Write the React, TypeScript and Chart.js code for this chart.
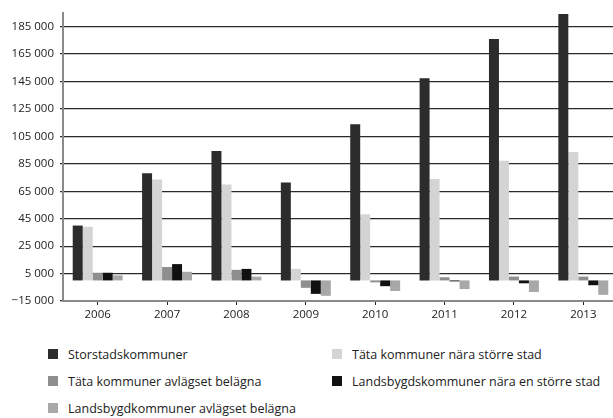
import React, { useEffect, useRef } from "react";
import { Chart, registerables } from "chart.js";

Chart.register(...registerables);

const years = ["2006", "2007", "2008", "2009", "2010", "2011", "2012", "2013"];

const storstad = [40000, 78200, 94300, 71300, 113900, 147400, 176000, 194200];
const tataNara = [39100, 73600, 69900, 8400, 48200, 74000, 87300, 93600];
const tataAvlagset = [5600, 9800, 7700, -5400, -1400, 2300, 2800, 2800];
const landsbygdNara = [5600, 11900, 8400, -9800, -4200, -700, -2100, -3500];
const landsbygdAvlagset = [3700, 6300, 2800, -11200, -7700, -6300, -8400, -10500];

const yTicks = [-15000, 5000, 25000, 45000, 65000, 85000, 105000, 125000, 145000, 165000, 185000];

const seriesNames = [
  "Storstadskommuner",
  "Täta kommuner nära större stad",
  "Täta kommuner avlägset belägna",
  "Landsbygdskommuner nära en större stad",
  "Landsbygdkommuner avlägset belägna",
];
const seriesColors = ["#2c2c2c", "#d4d4d4", "#8e8e8e", "#111111", "#a8a8a8"];
const seriesData = [storstad, tataNara, tataAvlagset, landsbygdNara, landsbygdAvlagset];

const FONT = "'Open Sans', 'DejaVu Sans', sans-serif";

function fmt(v: number): string {
  const neg = v < 0;
  const a = Math.abs(v);
  const s = a.toString().replace(/\B(?=(\d{3})+(?!\d))/g, " ");
  return (neg ? "\u2212" : "") + s;
}

export default function App() {
  const ref = useRef<HTMLCanvasElement | null>(null);

  useEffect(() => {
    if (!ref.current) return;
    const chart = new Chart(ref.current, {
      type: "bar",
      data: {
        labels: years,
        datasets: seriesNames.map((n, i) => ({
          label: n,
          data: seriesData[i],
          backgroundColor: seriesColors[i],
          borderWidth: 0,
          categoryPercentage: 0.72,
          barPercentage: 1,
        })),
      },
      options: {
        animation: false,
        responsive: true,
        maintainAspectRatio: false,
        layout: { padding: { top: 1, right: 0, left: 0, bottom: 0 } },
        plugins: {
          legend: { display: false },
          tooltip: { enabled: false },
        },
        scales: {
          x: {
            grid: {
              offset: false,
              drawOnChartArea: false,
              drawTicks: true,
              tickLength: 4,
              color: "#222",
              lineWidth: 1,
            },
            border: { color: "#8a8a8a", width: 2 },
            ticks: {
              font: { family: FONT, size: 11.5 },
              color: "#222",
              padding: 3,
            },
            afterFit: (s: any) => {
              s.height = 29;
            },
          },
          y: {
            min: -15000,
            max: 195000,
            afterBuildTicks: (axis: any) => {
              axis.ticks = yTicks.map((v) => ({ value: v }));
            },
            grid: {
              color: "#2a2a2a",
              lineWidth: 1.2,
              drawTicks: true,
              tickLength: 3,
            },
            border: { color: "#8a8a8a", width: 2 },
            ticks: {
              font: { family: FONT, size: 11.5 },
              color: "#222",
              padding: 6,
              callback: (v: any) => fmt(Number(v)),
            },
            afterFit: (s: any) => {
              s.width = 63;
            },
          },
        },
      },
    });
    return () => chart.destroy();
  }, []);

  const legendPos = [
    { x: 48, y: 354 },
    { x: 332, y: 354 },
    { x: 48, y: 381 },
    { x: 332, y: 381 },
    { x: 48, y: 408 },
  ];

  return (
    <div
      style={{
        position: "fixed",
        left: 0,
        top: 0,
        width: 613,
        height: 418,
        overflow: "hidden",
        background: "#fff",
      }}
    >
      <div style={{ position: "absolute", left: 0, top: 0, width: 618, height: 330 }}>
        <canvas ref={ref} />
      </div>
      {seriesNames.map((n, i) => (
        <div
          key={n}
          style={{
            position: "absolute",
            left: legendPos[i].x,
            top: legendPos[i].y - 9,
            height: 18,
            display: "flex",
            alignItems: "center",
            whiteSpace: "nowrap",
            fontFamily: FONT,
            fontSize: 12.5,
            color: "#222",
          }}
        >
          <span
            style={{
              display: "inline-block",
              width: 10,
              height: 10,
              background: seriesColors[i],
              marginRight: 10,
            }}
          />
          {n}
        </div>
      ))}
    </div>
  );
}
